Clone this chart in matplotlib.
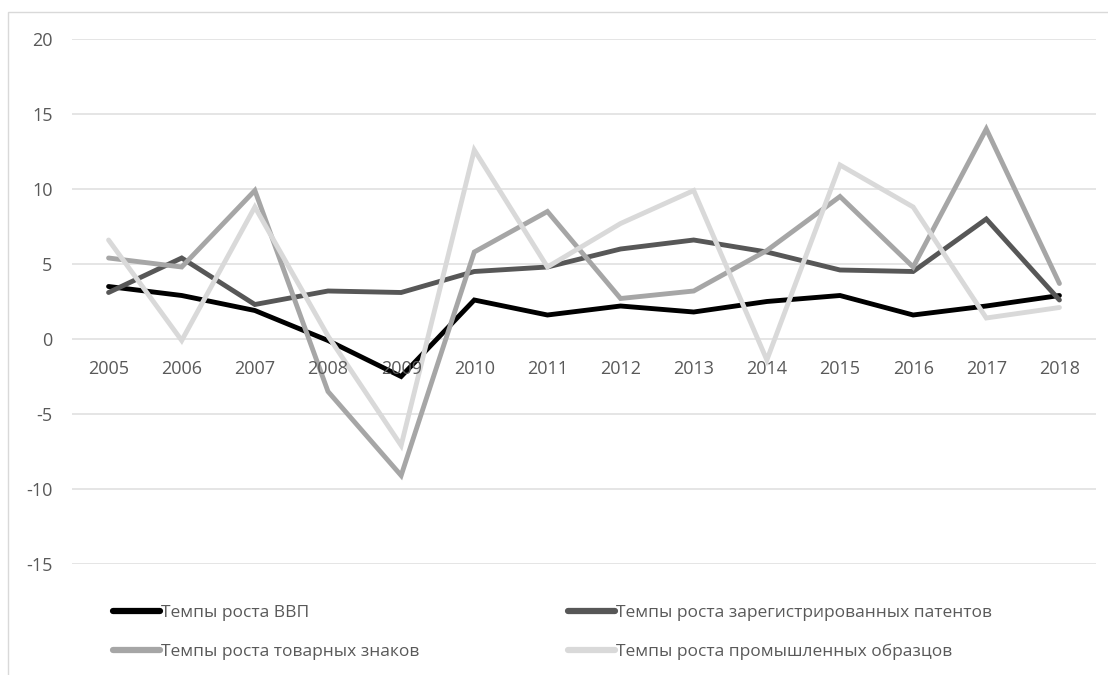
import matplotlib
matplotlib.use("Agg")
import matplotlib.pyplot as plt
from matplotlib.patches import Rectangle
import matplotlib.transforms as mtransforms

plt.rcParams['font.family'] = ['Open Sans', 'DejaVu Sans']

years = ["2005", "2006", "2007", "2008", "2009", "2010", "2011",
         "2012", "2013", "2014", "2015", "2016", "2017", "2018"]

gdp = [3.5, 2.9, 1.9, -0.1, -2.5, 2.6, 1.6, 2.2, 1.8, 2.5, 2.9, 1.6, 2.2, 2.9]
patents = [3.1, 5.4, 2.3, 3.2, 3.1, 4.5, 4.8, 6.0, 6.6, 5.8, 4.6, 4.5, 8.0, 2.6]
trademarks = [5.4, 4.8, 9.9, -3.5, -9.1, 5.8, 8.5, 2.7, 3.2, 5.9, 9.5, 4.8, 14.0, 3.7]
designs = [6.6, -0.1, 8.8, 0.2, -7.1, 12.6, 4.8, 7.7, 9.9, -1.4, 11.6, 8.8, 1.4, 2.1]

series_names = ["Темпы роста ВВП",
                "Темпы роста зарегистрированных патентов",
                "Темпы роста товарных знаков",
                "Темпы роста промышленных образцов"]
series_values = [gdp, patents, trademarks, designs]
series_colors = ["#000000", "#575757", "#a6a6a6", "#d9d9d9"]

y_ticks = [-15, -10, -5, 0, 5, 10, 15, 20]

text_color = "#595959"
grid_color = "#e3e3e3"

fig = plt.figure(figsize=(11.08, 6.75), dpi=100)
fig.patch.set_facecolor("white")

# chart frame
fig.patches.append(Rectangle((8 / 1108, -0.01), 1.1, 1 - 12 / 675 + 0.01,
                             transform=fig.transFigure, fill=False,
                             edgecolor="#d9d9d9", linewidth=1.0))

ax = fig.add_axes([72 / 1108, 1 - 564 / 675, 1024 / 1108, 525 / 675])
x = list(range(len(years)))

for yv in y_ticks:
    ax.axhline(yv, color=grid_color, linewidth=1.3, zorder=1)

handles = {}
for name, vals, col in zip(series_names, series_values, series_colors):
    ln, = ax.plot(x, vals, color=col, linewidth=3.5, zorder=3,
                  solid_joinstyle="miter", solid_capstyle="round")
    handles[name] = ln

ax.set_xlim(-0.5, len(years) - 0.5)
ax.set_ylim(-15, 20)
ax.set_yticks(y_ticks)
ax.set_yticklabels([str(v) for v in y_ticks])
ax.tick_params(axis="y", length=0, pad=14, labelsize=13, labelcolor=text_color)
ax.set_xticks([])
for sp in ax.spines.values():
    sp.set_visible(False)

# category labels sit just below the zero line
offs = mtransforms.offset_copy(ax.transData, fig=fig, x=0, y=-21, units="dots")
for xi, lab in zip(x, years):
    ax.text(xi, 0, lab, transform=offs, ha="center", va="top",
            fontsize=13, color=text_color)

order = [series_names[0], series_names[2], series_names[1], series_names[3]]
leg = fig.legend([handles[n] for n in order], order, ncol=2,
                 loc="upper left", bbox_to_anchor=(106 / 1108, 1 - 598 / 675),
                 frameon=False, fontsize=12.5, handlelength=2.7,
                 handletextpad=0.05, columnspacing=8.6, labelspacing=1.3,
                 borderaxespad=0)
for t in leg.get_texts():
    t.set_color(text_color)
for lh in leg.get_lines():
    lh.set_linewidth(4.5)

fig.savefig("out.png", dpi=100, facecolor="white")
